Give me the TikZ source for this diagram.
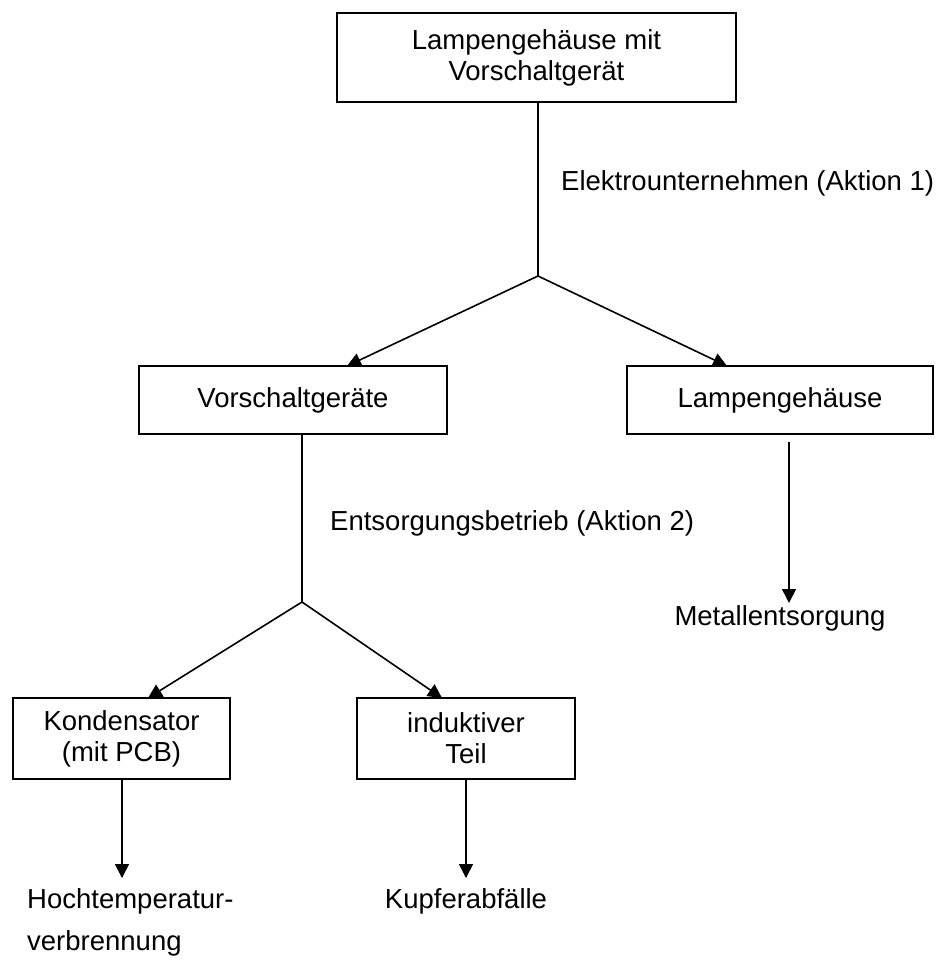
\documentclass[tikz,border=0pt]{standalone}
\usepackage{fontspec}
\setmainfont{Liberation Sans}
\usetikzlibrary{arrows.meta}
\newcommand{\lblfont}{\fontsize{27.5pt}{31pt}\selectfont}
\begin{document}
\begin{tikzpicture}[x=1pt,y=-1pt,
  boxnode/.style={draw=black, line width=1.8pt, inner sep=0pt, align=center, font=\lblfont},
  lbl/.style={inner sep=0pt, font=\lblfont},
  conn/.style={line width=1.6pt},
  arr/.style={conn, -{Triangle[length=14pt,width=14pt]}}]
\useasboundingbox (0,0) rectangle (936,963);
% boxes
\node[boxnode, minimum width=399pt, minimum height=89pt] (top) at (536.5,57.5) {Lampengehäuse mit\\Vorschaltgerät};
\node[boxnode, minimum width=308pt, minimum height=68pt] (vor) at (293,400) {Vorschaltgeräte};
\node[boxnode, minimum width=306pt, minimum height=68pt] (lamp) at (780,400) {Lampengehäuse};
\node[boxnode, minimum width=217pt, minimum height=81pt] (kond) at (121.5,738.5) {Kondensator\\(mit PCB)};
\node[boxnode, minimum width=218pt, minimum height=81pt] (ind) at (466,738.5) {induktiver\\Teil};
% labels
\node[lbl, anchor=base west] (akt1) at (561,190) {Elektrounternehmen (Aktion 1)};
\node[lbl, anchor=base west] (akt2) at (330,530) {Entsorgungsbetrieb (Aktion 2)};
\node[lbl, anchor=base] (metall) at (780,625) {Metallentsorgung};
\node[lbl, anchor=base west] (hoch) at (27,908) {Hochtemperatur-};
\node[lbl, anchor=base west] (verb) at (27,950) {verbrennung};
\node[lbl, anchor=base] (kupfer) at (466,908) {Kupferabfälle};
% junctions and tips
\coordinate (j1) at (538,276);
\coordinate (j2) at (302,602);
\coordinate (t1) at (347,366);
\coordinate (t2) at (727,366);
\coordinate (t3) at (148,698);
\coordinate (t4) at (442,698);
\coordinate (s1) at (789,442);
\coordinate (e1) at (789,603);
\coordinate (e2) at (122,878);
\coordinate (e3) at (466,878);
% connectors
\draw[conn] (top.south -| j1) -- (j1);
\draw[arr] (j1) -- (t1);
\draw[arr] (j1) -- (t2);
\draw[conn] (vor.south -| j2) -- (j2);
\draw[arr] (j2) -- (t3);
\draw[arr] (j2) -- (t4);
\draw[arr] (s1) -- (e1);
\draw[arr] (kond.south -| e2) -- (e2);
\draw[arr] (ind.south -| e3) -- (e3);
\end{tikzpicture}
\end{document}
